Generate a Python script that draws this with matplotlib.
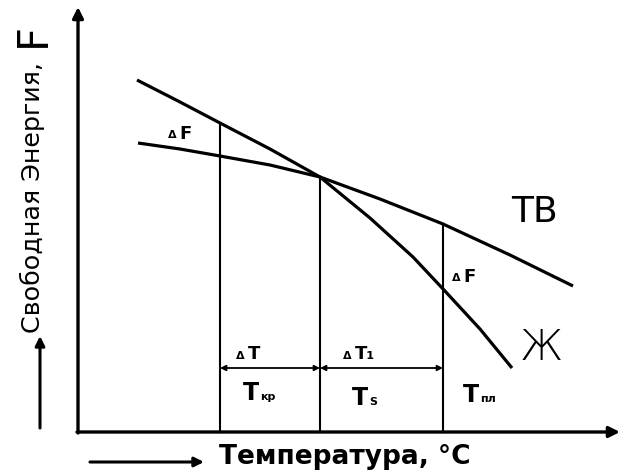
import matplotlib
matplotlib.use("Agg")
import matplotlib.pyplot as plt

# Curves (pixel-space reading of the reference)
liquid_x = [137, 180, 220, 270, 320, 370, 413, 444, 480, 512]
liquid_y = [80, 102, 123, 149, 177, 218, 257, 290, 329, 368]
solid_x = [138, 180, 220, 270, 320, 380, 443, 510, 573]
solid_y = [143, 149, 156, 165, 177, 199, 224, 255, 286]

# Temperature markers: x position, top of vertical line
temp_x = [220, 320, 443]
temp_top = [123, 177, 224]
temp_labels = ["T", "T", "T"]
temp_subs = ["кр", "S", "пл"]
dT_labels = ["T", "T₁"]

xlabel = "Температура, °C"
ylabel = "Свободная Энергия,"
ylabel_F = "F"
phase_solid = "ТВ"
phase_liquid = "Ж"

fig = plt.figure(figsize=(6.23, 4.75), dpi=100)
ax = fig.add_axes([0, 0, 1, 1])
ax.set_xlim(0, 623)
ax.set_ylim(475, 0)
ax.axis("off")

K = "black"
base_y = 432

# axes with arrows
ax.annotate("", xy=(78, 7), xytext=(78, base_y + 1),
            arrowprops=dict(arrowstyle="-|>", color=K, lw=2.4, mutation_scale=16,
                            shrinkA=0, shrinkB=0))
ax.annotate("", xy=(620, base_y), xytext=(77, base_y),
            arrowprops=dict(arrowstyle="-|>", color=K, lw=2.4, mutation_scale=16,
                            shrinkA=0, shrinkB=0))

# curves
ax.plot(liquid_x, liquid_y, color=K, lw=2.3, solid_capstyle="butt", solid_joinstyle="round")
ax.plot(solid_x, solid_y, color=K, lw=2.3, solid_capstyle="butt", solid_joinstyle="round")

# vertical lines
for x, t in zip(temp_x, temp_top):
    ax.plot([x, x], [t, base_y], color=K, lw=1.5)

# double arrows
arr_y = 368
for i in range(2):
    ax.annotate("", xy=(temp_x[i + 1], arr_y), xytext=(temp_x[i], arr_y),
                arrowprops=dict(arrowstyle="<|-|>", color=K, lw=1.3, mutation_scale=8,
                                shrinkA=0, shrinkB=0))

# ΔT labels
for xc, lab in zip([236, 343], dT_labels):
    ax.text(xc, 356, "Δ", fontsize=8, fontweight="bold", ha="left", va="center",
            family="DejaVu Sans")
    ax.text(xc + 12, 354, lab, fontsize=13, fontweight="bold", ha="left", va="center",
            family="DejaVu Sans")

# temperature labels
tl_pos = [(243, 393), (352, 398), (463, 395)]
for (x, y), t, s in zip(tl_pos, temp_labels, temp_subs):
    ax.text(x, y, t, fontsize=17, fontweight="bold", ha="left", va="center",
            family="DejaVu Sans")
    ax.text(x + 17, y + 4, s, fontsize=8, fontweight="bold", ha="left", va="center",
            family="DejaVu Sans")

# ΔF labels
for x, y in [(168, 134), (452, 277)]:
    ax.text(x, y + 1, "Δ", fontsize=8, fontweight="bold", ha="left", va="center",
            family="DejaVu Sans")
    ax.text(x + 11, y, "F", fontsize=13, fontweight="bold", ha="left", va="center",
            family="DejaVu Sans")

# phase labels
ax.text(534, 212, phase_solid, fontsize=26, ha="center", va="center",
        family="DejaVu Sans")
ax.text(541, 348, phase_liquid, fontsize=30, ha="center", va="center",
        family="DejaVu Sans", fontweight="light")

# x label and arrow
ax.annotate("", xy=(204, 462), xytext=(90, 462),
            arrowprops=dict(arrowstyle="-|>", color=K, lw=2.2, mutation_scale=14,
                            shrinkA=0, shrinkB=0))
ax.text(219, 457, xlabel, fontsize=19, fontweight="bold", ha="left", va="center",
        family="DejaVu Sans")

# y label and arrow
ax.annotate("", xy=(40, 336), xytext=(40, 428),
            arrowprops=dict(arrowstyle="-|>", color=K, lw=2.2, mutation_scale=14,
                            shrinkA=0, shrinkB=0))
ax.text(32, 333, ylabel, fontsize=18.3, rotation=90, ha="center", va="bottom",
        family="DejaVu Sans")
ax.text(33, 47, ylabel_F, fontsize=30, rotation=90, ha="center", va="bottom",
        family="DejaVu Sans")

fig.savefig("out.png", dpi=100)
